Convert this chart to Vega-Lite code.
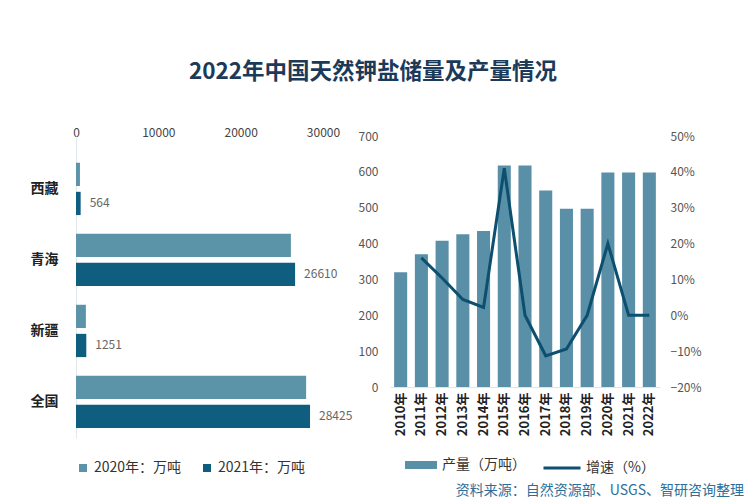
{
  "$schema": "https://vega.github.io/schema/vega-lite/v6.json",
  "background": "white",
  "padding": {"left": 30, "top": 60, "right": 5, "bottom": 0},
  "title": {
    "text": "2022年中国天然钾盐储量及产量情况",
    "font": "Noto Sans CJK SC",
    "fontSize": 22.5,
    "fontWeight": "bold",
    "color": "#1b3a5a",
    "anchor": "middle",
    "dx": -14,
    "offset": 43
  },
  "config": {
    "view": {"stroke": null},
    "font": "Noto Sans CJK SC",
    "axis": {"labelFont": "Noto Sans CJK SC"},
    "legend": {"labelFont": "Noto Sans CJK SC"}
  },
  "spacing": 5,
  "hconcat": [
    {
      "width": 247,
      "height": 302,
      "data": {
        "values": [
          {"region": "西藏", "series": "2020年：万吨", "value": 480},
          {"region": "西藏", "series": "2021年：万吨", "value": 564},
          {"region": "青海", "series": "2020年：万吨", "value": 26100},
          {"region": "青海", "series": "2021年：万吨", "value": 26610},
          {"region": "新疆", "series": "2020年：万吨", "value": 1200},
          {"region": "新疆", "series": "2021年：万吨", "value": 1251},
          {"region": "全国", "series": "2020年：万吨", "value": 27950},
          {"region": "全国", "series": "2021年：万吨", "value": 28425}
        ]
      },
      "encoding": {
        "y": {
          "field": "region",
          "type": "nominal",
          "sort": ["西藏", "青海", "新疆", "全国"],
          "scale": {"paddingInner": 0.263, "paddingOuter": 0.258, "align": 0.73},
          "axis": {
            "title": null,
            "ticks": false,
            "labelFontSize": 14,
            "labelFontWeight": "bold",
            "labelColor": "#222222",
            "labelPadding": 18,
            "domainColor": "#e3e8ec"
          }
        },
        "yOffset": {
          "field": "series",
          "sort": ["2020年：万吨", "2021年：万吨"],
          "scale": {"paddingInner": 0.2}
        },
        "x": {
          "field": "value",
          "type": "quantitative",
          "scale": {"domain": [0, 30000]},
          "axis": {
            "orient": "top",
            "title": null,
            "ticks": false,
            "domain": false,
            "grid": false,
            "labelFlush": false,
            "labelColor": "#444444",
            "labelFontSize": 12,
            "labelPadding": 0,
            "offset": -3,
            "values": [0, 10000, 20000, 30000],
            "format": "d"
          }
        }
      },
      "layer": [
        {
          "mark": {"type": "bar"},
          "encoding": {
            "color": {
              "field": "series",
              "type": "nominal",
              "scale": {
                "domain": ["2020年：万吨", "2021年：万吨"],
                "range": ["#5b93a9", "#0f5e80"]
              },
              "legend": {
                "orient": "none",
                "legendX": 0,
                "legendY": 325,
                "direction": "horizontal",
                "title": null,
                "symbolType": "square",
                "symbolSize": 64,
                "labelFontSize": 14,
                "labelColor": "#333333",
                "columnPadding": 18,
                "labelOffset": 4
              }
            }
          }
        },
        {
          "transform": [{"filter": "datum.series == '2021年：万吨'"}],
          "mark": {"type": "text", "align": "left", "dx": 9, "fontSize": 12, "color": "#666666"},
          "encoding": {
            "text": {"field": "value", "type": "quantitative", "format": "d"}
          }
        }
      ]
    },
    {
      "width": 270,
      "height": 251,
      "data": {
        "values": [
          {"year": "2010年", "output": 320, "growth": null},
          {"year": "2011年", "output": 370, "growth": 0.16},
          {"year": "2012年", "output": 408, "growth": 0.104},
          {"year": "2013年", "output": 426, "growth": 0.044},
          {"year": "2014年", "output": 435, "growth": 0.022},
          {"year": "2015年", "output": 618, "growth": 0.41},
          {"year": "2016年", "output": 618, "growth": 0.0},
          {"year": "2017年", "output": 548, "growth": -0.113},
          {"year": "2018年", "output": 497, "growth": -0.094},
          {"year": "2019年", "output": 497, "growth": 0.0},
          {"year": "2020年", "output": 598, "growth": 0.2},
          {"year": "2021年", "output": 598, "growth": 0.0},
          {"year": "2022年", "output": 598, "growth": 0.0}
        ]
      },
      "title": {
        "text": "资料来源：自然资源部、USGS、智研咨询整理",
        "orient": "bottom",
        "anchor": "end",
        "fontSize": 14,
        "fontWeight": "normal",
        "color": "#2b6f9a",
        "offset": 48,
        "dx": 43
      },
      "encoding": {
        "x": {
          "field": "year",
          "type": "nominal",
          "scale": {"paddingInner": 0.37, "paddingOuter": 0.2},
          "axis": {
            "title": null,
            "labelAngle": 270,
            "ticks": false,
            "labelFontSize": 13,
            "labelFontWeight": "bold",
            "labelColor": "#222222",
            "labelPadding": 5,
            "domainColor": "#dfe4e8"
          }
        }
      },
      "layer": [
        {
          "mark": {"type": "bar"},
          "encoding": {
            "y": {
              "field": "output",
              "type": "quantitative",
              "scale": {"domain": [0, 700]},
              "axis": {
                "title": null,
                "values": [0, 100, 200, 300, 400, 500, 600, 700],
                "ticks": false,
                "domain": false,
                "grid": false,
                "labelColor": "#555555",
                "labelFontSize": 12,
                "labelPadding": 12
              }
            },
            "fill": {
              "datum": "产量（万吨）",
              "scale": {"range": ["#5a8fa8"]},
              "legend": {
                "orient": "none",
                "legendX": 328,
                "legendY": 312,
                "title": null,
                "symbolType": "M-1,-0.25H1V0.25H-1Z",
                "symbolSize": 1024,
                "labelFontSize": 14,
                "labelColor": "#333333",
                "labelOffset": 4
              }
            }
          }
        },
        {
          "mark": {"type": "line", "strokeWidth": 3, "interpolate": "linear"},
          "encoding": {
            "y": {
              "field": "growth",
              "type": "quantitative",
              "scale": {"domain": [-0.2, 0.5]},
              "axis": {
                "title": null,
                "orient": "right",
                "format": ".0%",
                "values": [-0.2, -0.1, 0, 0.1, 0.2, 0.3, 0.4, 0.5],
                "ticks": false,
                "domain": false,
                "grid": false,
                "labelColor": "#555555",
                "labelFontSize": 12,
                "labelPadding": 10
              }
            },
            "stroke": {
              "datum": "增速（%）",
              "scale": {"range": ["#0c4f6e"]},
              "legend": {
                "orient": "none",
                "legendX": 466,
                "legendY": 312,
                "title": null,
                "symbolType": "stroke",
                "symbolSize": 1369,
                "symbolStrokeWidth": 3,
                "labelFontSize": 14,
                "labelColor": "#333333",
                "labelOffset": 4
              }
            }
          }
        }
      ],
      "resolve": {"scale": {"y": "independent"}}
    }
  ]
}
